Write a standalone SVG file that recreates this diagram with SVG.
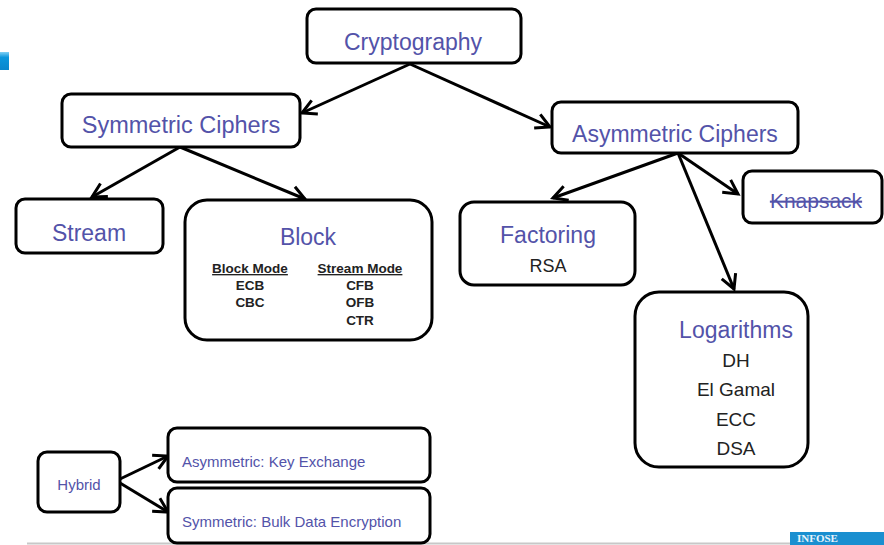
<svg xmlns="http://www.w3.org/2000/svg" width="884" height="545" viewBox="0 0 884 545">
<defs>
<marker id="ah" markerUnits="userSpaceOnUse" markerWidth="20" markerHeight="20" viewBox="0 0 20 20" refX="17" refY="10" orient="auto">
<path d="M3,2.5 L17,10 L3,17.5" fill="none" stroke="#000" stroke-width="3"/>
</marker>
<linearGradient id="bg" x1="0" y1="0" x2="0" y2="1">
<stop offset="0" stop-color="#7fd0f5"/><stop offset="0.3" stop-color="#0b96dc"/><stop offset="1" stop-color="#0a86cc"/>
</linearGradient>
</defs>
<style>
.box{fill:#fff;stroke:#000;stroke-width:3}
.lbl{font-family:"Liberation Sans",Arial,sans-serif;fill:#5353a9;text-anchor:middle}
.sub{font-family:"Liberation Sans",Arial,sans-serif;fill:#222;text-anchor:middle}
.mode{font-family:"Liberation Sans",Arial,sans-serif;fill:#222;text-anchor:middle;font-weight:bold;font-size:13.5px}
.sm{font-family:"Liberation Sans",Arial,sans-serif;fill:#5353a9;font-size:15px}
.con{fill:none;stroke:#000;stroke-width:3;marker-end:url(#ah)}
</style>
<rect width="884" height="545" fill="#fff"/>
<rect x="0" y="52" width="9" height="18" fill="url(#bg)"/>
<line x1="27" y1="543.5" x2="884" y2="543.5" stroke="#c8c8c8" stroke-width="2"/>
<g id="logo">
<rect x="790" y="532" width="94" height="13" fill="#1a8fd0"/>
<text x="797" y="541.5" font-family="Liberation Serif,serif" font-weight="bold" font-size="11" fill="#e8f4fb">INFOSE</text>
</g>
<g id="connectors">
<line class="con" x1="410" y1="64" x2="302" y2="113"/>
<line class="con" x1="410" y1="64" x2="550" y2="127"/>
<line class="con" x1="180" y1="147" x2="92" y2="197"/>
<line class="con" x1="180" y1="147" x2="305" y2="199"/>
<line class="con" x1="678" y1="153" x2="553" y2="198"/>
<line class="con" x1="678" y1="153" x2="738" y2="194"/>
<line class="con" x1="678" y1="153" x2="734" y2="289"/>
<line class="con" x1="120" y1="479" x2="168" y2="456"/>
<line class="con" x1="120" y1="483" x2="168" y2="512"/>
</g>
<g id="cryptography">
<rect class="box" x="307" y="9" width="214" height="54" rx="9"/>
<text class="lbl" x="413" y="50" font-size="23">Cryptography</text>
</g>
<g id="symmetric">
<rect class="box" x="62" y="94" width="238" height="53" rx="9"/>
<text class="lbl" x="181" y="133" font-size="23.5">Symmetric Ciphers</text>
</g>
<g id="asymmetric">
<rect class="box" x="552" y="102" width="246" height="51" rx="9"/>
<text class="lbl" x="675" y="142" font-size="23">Asymmetric Ciphers</text>
</g>
<g id="stream">
<rect class="box" x="16" y="199" width="147" height="54" rx="9"/>
<text class="lbl" x="89" y="241" font-size="23">Stream</text>
</g>
<g id="block">
<rect class="box" x="185" y="200" width="247" height="140" rx="22"/>
<text class="lbl" x="308" y="245" font-size="23">Block</text>
<text class="mode" x="250" y="273" text-decoration="underline">Block Mode</text>
<text class="mode" x="250" y="290">ECB</text>
<text class="mode" x="250" y="307">CBC</text>
<text class="mode" x="360" y="273" text-decoration="underline">Stream Mode</text>
<text class="mode" x="360" y="290">CFB</text>
<text class="mode" x="360" y="307">OFB</text>
<text class="mode" x="360" y="325">CTR</text>
</g>
<g id="factoring">
<rect class="box" x="460" y="202" width="175" height="83" rx="14"/>
<text class="lbl" x="548" y="243" font-size="23">Factoring</text>
<text class="sub" x="548" y="272" font-size="18">RSA</text>
</g>
<g id="knapsack">
<rect class="box" x="743" y="171" width="139" height="52" rx="9"/>
<text class="lbl" x="816" y="208" font-size="21" text-decoration="line-through">Knapsack</text>
</g>
<g id="logarithms">
<rect class="box" x="635" y="292" width="173" height="175" rx="24"/>
<text class="lbl" x="736" y="338" font-size="23">Logarithms</text>
<text class="sub" x="736" y="367" font-size="19">DH</text>
<text class="sub" x="736" y="396" font-size="19">El Gamal</text>
<text class="sub" x="736" y="426" font-size="19">ECC</text>
<text class="sub" x="736" y="455" font-size="19">DSA</text>
</g>
<g id="hybrid">
<rect class="box" x="38" y="452" width="82" height="60" rx="9"/>
<text class="sm" x="79" y="490" text-anchor="middle">Hybrid</text>
</g>
<g id="keyexchange">
<rect class="box" x="168" y="428" width="262" height="54" rx="9"/>
<text class="sm" x="182" y="467">Asymmetric: Key Exchange</text>
</g>
<g id="bulk">
<rect class="box" x="168" y="488" width="262" height="55" rx="9"/>
<text class="sm" x="182" y="527">Symmetric: Bulk Data Encryption</text>
</g>
</svg>
